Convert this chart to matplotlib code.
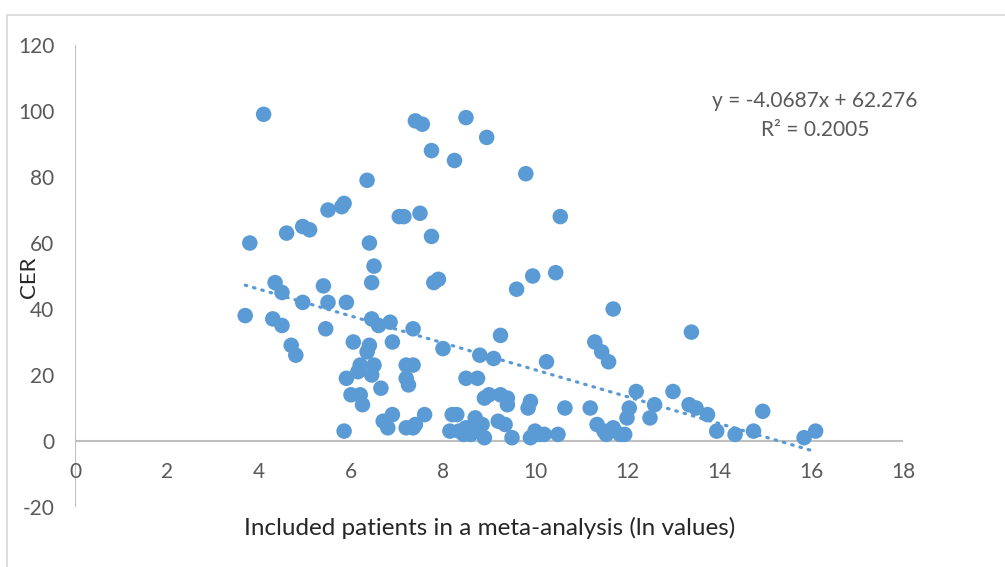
import matplotlib
matplotlib.use("Agg")
import matplotlib.pyplot as plt
import numpy as np
from matplotlib.patches import Rectangle

plt.rcParams['font.family'] = ['Lato', 'DejaVu Sans']

x_vals = [4.1, 3.8, 3.7, 4.3, 4.35, 4.5, 4.5, 4.6, 4.7, 4.8, 4.95, 4.95, 5.1,
          5.4, 5.5, 5.45, 5.5, 5.8, 5.85, 5.9, 5.85, 5.9, 6.0, 6.05, 6.2, 6.2,
          6.15, 6.25, 6.35, 6.4, 6.45, 6.5, 6.45, 6.35, 6.4, 6.45, 6.5, 6.6,
          6.65, 6.7, 6.8, 6.85, 6.9, 6.9, 7.05, 7.15, 7.2, 7.2, 7.25, 7.2, 7.35,
          7.4, 7.35, 7.35, 7.4, 7.55, 7.5, 7.6, 7.75, 7.75, 7.8, 7.9, 8.0, 8.15,
          8.2, 8.3, 8.25, 8.35, 8.45, 8.5, 8.5, 8.5, 8.6, 8.6, 8.7, 8.7, 8.8,
          8.75, 8.85, 8.9, 8.9, 8.95, 9.0, 9.1, 9.2, 9.25, 9.25, 9.35, 9.4, 9.4,
          9.5, 9.6, 9.8, 9.85, 9.9, 9.9, 9.95, 10.0, 10.1, 10.2, 10.25, 10.45,
          10.5, 10.55, 10.65, 11.2, 11.3, 11.35, 11.45, 11.5, 11.55, 11.6, 11.7,
          11.7, 11.85, 11.95, 12.0, 12.05, 12.2, 12.5, 12.6, 13.0, 13.35, 13.4,
          13.5, 13.75, 13.95, 14.35, 14.75, 14.95, 15.85, 16.1]
y_vals = [99, 60, 38, 37, 48, 45, 35, 63, 29, 26, 42, 65, 64,
          47, 70, 34, 42, 71, 72, 42, 3, 19, 14, 30, 14, 23,
          21, 11, 79, 60, 48, 53, 37, 27, 29, 20, 23, 35,
          16, 6, 4, 36, 30, 8, 68, 68, 23, 19, 17, 4, 4,
          5, 34, 23, 97, 96, 69, 8, 88, 62, 48, 49, 28, 3,
          8, 8, 85, 3, 2, 98, 19, 4, 2, 4, 7, 3, 26,
          19, 5, 1, 13, 92, 14, 25, 6, 32, 14, 5, 13, 11,
          1, 46, 81, 10, 12, 1, 50, 3, 2, 2, 24, 51,
          2, 68, 10, 10, 30, 5, 27, 3, 2, 24, 40,
          4, 2, 2, 7, 10, 15, 7, 11, 15, 11, 33,
          10, 8, 3, 2, 3, 9, 1, 3]

slope = -4.0687
intercept = 62.276
eq_text = "y = -4.0687x + 62.276"
r2_text = "R² = 0.2005"

x_ticks = [0, 2, 4, 6, 8, 10, 12, 14, 16, 18]
y_ticks = [-20, 0, 20, 40, 60, 80, 100, 120]

blue = '#5B9BD5'
txt = '#595959'
grid = '#BFBFBF'

W, H = 1005, 567
fig = plt.figure(figsize=(W/100, H/100), dpi=100)
fig.patches.append(Rectangle((7/W, -0.1), 1.2, 1.1 - 15/H, transform=fig.transFigure,
                             fill=False, edgecolor='#D9D9D9', lw=1.2))

ax = fig.add_axes([75/W, 1 - 507/H, (903-75)/W, (507-45)/H])
ax.set_xlim(0, 18)
ax.set_ylim(-20, 120)

ax.scatter(x_vals, y_vals, s=125, color=blue, edgecolors='none', zorder=3)

xs = np.array([min(x_vals), max(x_vals)])
ax.plot(xs, slope*xs + intercept, color=blue, lw=2.3,
        linestyle=(0, (0.5, 2.2)), dash_capstyle='round', zorder=2)

for s in ax.spines.values():
    s.set_visible(False)
ax.axhline(0, color=grid, lw=1.5, zorder=1)
ax.axvline(0, color=grid, lw=1.5, zorder=1)

ax.set_yticks(y_ticks)
ax.set_yticklabels([str(v) for v in y_ticks], fontsize=15, color=txt)
ax.tick_params(axis='y', length=0, pad=15)
ax.set_xticks([])
for v in x_ticks:
    ax.text(v, -9.5, str(v), ha='center', va='center', fontsize=15, color=txt)

fig.text(29/W, 1 - 277/H, "CER", rotation=90, ha='center', va='center',
         fontsize=16, color='#262626')
fig.text(490/W, 1 - 528/H, "Included patients in a meta-analysis (ln values)",
         ha='center', va='center', fontsize=17.5, color='#262626')

fig.text(815/W, 1 - 101/H, eq_text, ha='center', va='center', fontsize=15, color=txt)
fig.text(815/W, 1 - 130/H, r2_text, ha='center', va='center', fontsize=15, color=txt)

fig.savefig("out.png", dpi=100, facecolor='white')
